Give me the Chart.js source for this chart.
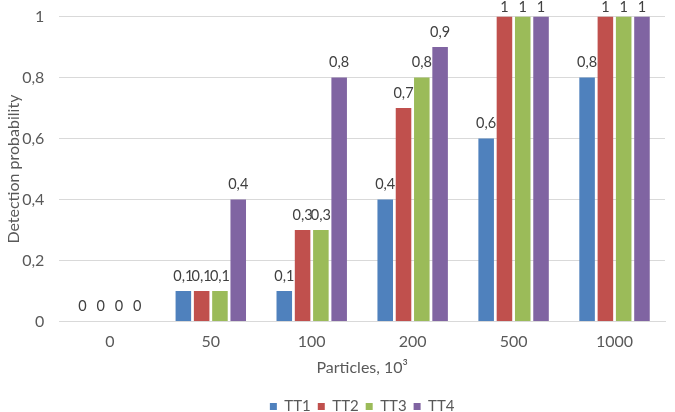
<!DOCTYPE html>
<html>
<head>
<meta charset="utf-8">
<script src="https://cdn.jsdelivr.net/npm/chart.js@4/dist/chart.umd.min.js"></script>
<style>
  html, body { margin: 0; padding: 0; background: #fff; }
  #wrap { width: 675px; height: 412px; }
</style>
</head>
<body>
<div id="wrap"><canvas id="myChart"></canvas></div>
<script>
const categories = ['0', '50', '100', '200', '500', '1000'];
const tt1 = [0, 0.1, 0.1, 0.4, 0.6, 0.8];
const tt2 = [0, 0.1, 0.3, 0.7, 1, 1];
const tt3 = [0, 0.1, 0.3, 0.8, 1, 1];
const tt4 = [0, 0.4, 0.8, 0.9, 1, 1];
const seriesNames = ['TT1', 'TT2', 'TT3', 'TT4'];
const colors = ['#4F81BD', '#C0504D', '#9BBB59', '#8064A2'];

const fmt = v => String(v).replace('.', ',');
const FONT = "Lato, 'Open Sans', sans-serif";
const textColor = '#595959';

// etiquetas de valor encima de cada barra
const valueLabels = {
    id: 'valueLabels',
    beforeDraw(chart) {
        // centrar la leyenda bajo el área del gráfico, como en Excel
        const lg = chart.legend;
        if (lg) {
            lg.left = chart.chartArea.left;
            lg.right = chart.chartArea.right;
        }
    },
    afterDatasetsDraw(chart) {
        const c = chart.ctx;
        c.save();
        c.font = '14.5px ' + FONT;
        c.fillStyle = '#404040';
        c.textAlign = 'center';
        c.textBaseline = 'bottom';
        chart.data.datasets.forEach((ds, i) => {
            const meta = chart.getDatasetMeta(i);
            meta.data.forEach((bar, j) => {
                const y = Math.max(bar.y - 8, 15);
                c.fillText(fmt(ds.data[j]), bar.x, y);
            });
        });
        c.restore();
    }
};

const ctx = document.getElementById('myChart').getContext('2d');
new Chart(ctx, {
    type: 'bar',
    data: {
        labels: categories,
        datasets: [tt1, tt2, tt3, tt4].map((d, i) => ({
            label: seriesNames[i],
            data: d,
            backgroundColor: colors[i],
            borderWidth: 0,
            categoryPercentage: 0.725,
            barPercentage: 0.85
        }))
    },
    options: {
        responsive: true,
        maintainAspectRatio: false,
        animation: false,
        layout: { padding: { top: 0, right: 10, left: 2, bottom: -12 } },
        plugins: {
            legend: {
                position: 'bottom',
                labels: {
                    boxWidth: 7,
                    boxHeight: 7,
                    padding: 7,
                    font: { size: 15, family: FONT },
                    color: textColor
                }
            },
            tooltip: { enabled: false }
        },
        scales: {
            y: {
                min: 0,
                max: 1,
                ticks: {
                    stepSize: 0.2,
                    padding: 15,
                    // lineHeight pequeño: el eje no reserva tanto espacio arriba
                    font: { size: 16, family: FONT, lineHeight: 0.2 },
                    color: textColor,
                    callback: v => fmt(Math.round(v * 10) / 10)
                },
                grid: { color: '#D9D9D9', drawTicks: false },
                border: { display: false },
                title: {
                    display: true,
                    text: 'Detection probability',
                    font: { size: 16, family: FONT },
                    color: textColor,
                    padding: { top: 2, bottom: -16 }
                }
            },
            x: {
                ticks: {
                    padding: 11,
                    font: { size: 16, family: FONT },
                    color: textColor
                },
                grid: { display: false, drawTicks: false },
                border: { color: '#D9D9D9' },
                title: {
                    display: true,
                    text: 'Particles, 10³',
                    font: { size: 16, family: FONT },
                    color: textColor,
                    padding: { top: -5, bottom: 15 }
                }
            }
        }
    },
    plugins: [valueLabels]
});
</script>
</body>
</html>
